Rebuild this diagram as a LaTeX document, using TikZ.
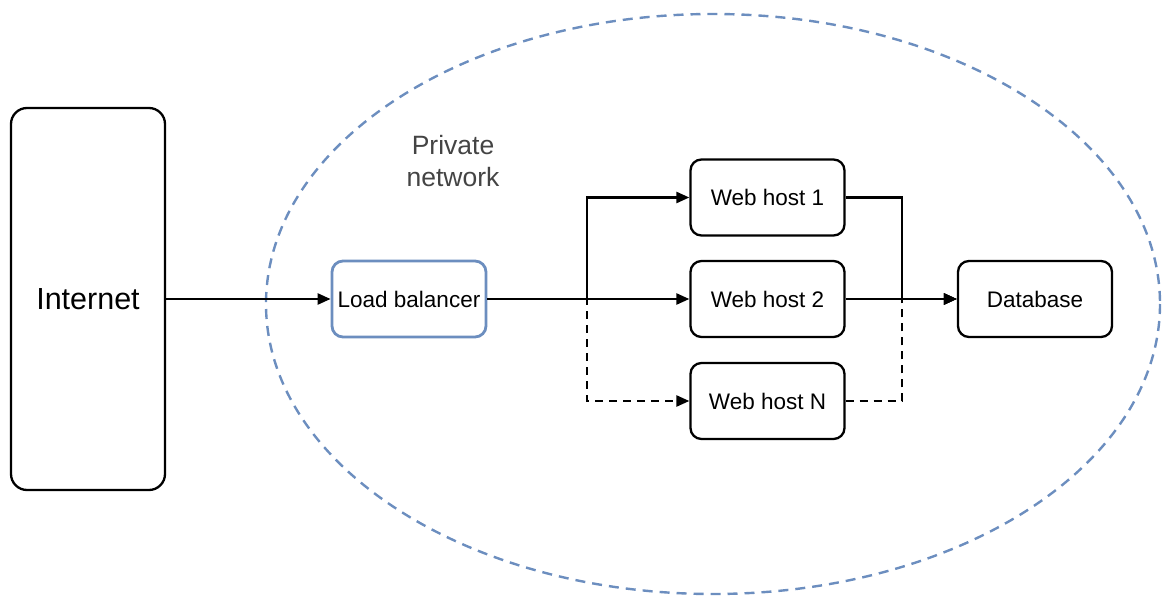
\documentclass[tikz,border=0pt]{standalone}
\usepackage{fontspec}
\setmainfont{Liberation Sans}
\usetikzlibrary{arrows.meta}
\definecolor{netblue}{HTML}{6C8EBF}
\definecolor{labelgray}{HTML}{444444}
\tikzset{
  box/.style={draw=black, line width=2.3pt, rounded corners=11pt, fill=white,
    minimum width=154pt, minimum height=76pt, inner sep=0pt,
    font=\fontsize{22.5}{27}\selectfont},
  lbbox/.style={box, draw=netblue, line width=2.8pt},
  link/.style={line width=2.5pt, -{Triangle[length=13pt,width=11pt]}},
  dlink/.style={link, dash pattern=on 8pt off 6pt},
}
\begin{document}
\begin{tikzpicture}[x=1pt,y=-1pt]
  \useasboundingbox (0,0) rectangle (1162,596);

  % private network boundary
  \draw[netblue, line width=2.4pt, dash pattern=on 10pt off 7pt]
    (713,304) ellipse [x radius=447, y radius=290];
  \node[text=labelgray, align=center, font=\fontsize{26.5}{32}\selectfont]
    (pn) at (453,161) {Private\\network};

  % nodes
  \node[box, minimum height=382pt, rounded corners=16pt,
        font=\fontsize{30.5}{36}\selectfont] (inet) at (88,299) {Internet};
  \node[lbbox] (lb) at (409,299) {Load balancer};
  \node[box] (wh1) at (767.5,197.5) {Web host 1};
  \node[box] (wh2) at (767.5,299) {Web host 2};
  \node[box] (whn) at (767.5,401) {Web host N};
  \node[box] (db) at (1035,299) {Database};

  % junction points
  \coordinate (jl) at (587,299);
  \coordinate (jr) at (902,299);

  % connectors
  \draw[link] (inet) -- (lb);
  \draw[dlink] (lb.east) -- (jl) |- (whn.west);
  \draw[link] (lb.east) -- (jl) |- (wh1.west);
  \draw[link] (lb.east) -- (wh2.west);
  \draw[dlink] (whn.east) -| (jr) -- (db.west);
  \draw[link] (wh1.east) -| (jr) -- (db.west);
  \draw[link] (wh2.east) -- (db.west);
\end{tikzpicture}
\end{document}
